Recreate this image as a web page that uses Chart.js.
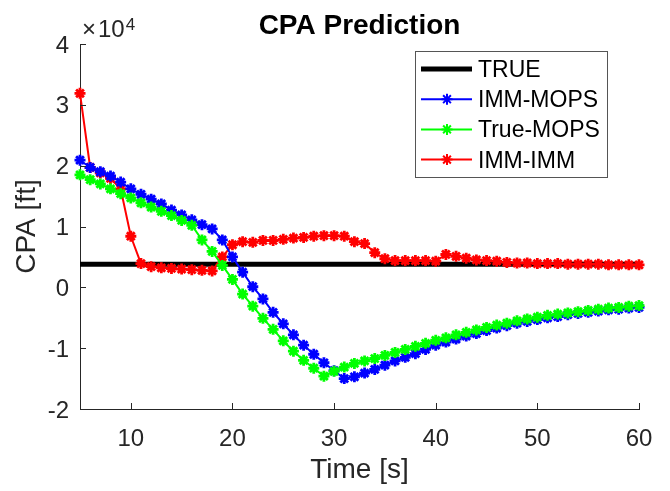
<!DOCTYPE html>
<html>
<head>
<meta charset="utf-8">
<script src="https://cdn.jsdelivr.net/npm/chart.js@4.4.1/dist/chart.umd.min.js"></script>
<style>
  html, body { margin: 0; padding: 0; background: #fff; }
  #wrap { width: 670px; height: 491px; }
</style>
</head>
<body>
<div id="wrap"><canvas id="cpaChart" width="670" height="491"></canvas></div>
<script>
// CPA estimates over time, in units of 1e4 ft (axis shows the x10^4 multiplier)
const time = [5, 6, 7, 8, 9, 10, 11, 12, 13, 14, 15, 16, 17, 18, 19, 20,
  21, 22, 23, 24, 25, 26, 27, 28, 29, 30, 31, 32, 33, 34, 35, 36, 37, 38, 39, 40,
  41, 42, 43, 44, 45, 46, 47, 48, 49, 50, 51, 52, 53, 54, 55, 56, 57, 58, 59, 60];

const trueCpa = 0.38;

const immMops = [2.09, 1.97, 1.90, 1.83, 1.73, 1.62, 1.53, 1.45, 1.37, 1.27, 1.19, 1.11, 1.03, 0.96, 0.78, 0.50,
  0.25, 0.01, -0.19, -0.41, -0.60, -0.78, -0.95, -1.10, -1.24, -1.37, -1.50, -1.47, -1.41, -1.35, -1.28, -1.21,
  -1.15, -1.09, -1.02, -0.95, -0.90, -0.85, -0.80, -0.76, -0.71, -0.67, -0.63, -0.59, -0.56, -0.53, -0.50, -0.48,
  -0.45, -0.43, -0.41, -0.39, -0.37, -0.36, -0.34, -0.33];

const trueMops = [1.85, 1.77, 1.70, 1.62, 1.54, 1.47, 1.39, 1.32, 1.25, 1.18, 1.10, 1.02, 0.78, 0.59, 0.36, 0.13,
  -0.11, -0.31, -0.51, -0.69, -0.88, -1.05, -1.20, -1.33, -1.46, -1.38, -1.31, -1.25, -1.21, -1.17, -1.12, -1.07,
  -1.02, -0.97, -0.92, -0.87, -0.83, -0.78, -0.74, -0.70, -0.66, -0.62, -0.59, -0.55, -0.52, -0.49, -0.46, -0.44,
  -0.42, -0.40, -0.38, -0.36, -0.34, -0.33, -0.31, -0.30];

const immImm = [3.19, 1.97, 1.88, 1.79, 1.62, 0.84, 0.39, 0.34, 0.32, 0.31, 0.30, 0.29, 0.28, 0.27, 0.50, 0.70,
  0.75, 0.74, 0.77, 0.77, 0.79, 0.81, 0.82, 0.84, 0.85, 0.85, 0.84, 0.75, 0.72, 0.57, 0.47, 0.44,
  0.44, 0.44, 0.44, 0.43, 0.54, 0.51, 0.48, 0.45, 0.44, 0.43, 0.41, 0.40, 0.40, 0.39, 0.39, 0.39,
  0.38, 0.38, 0.38, 0.38, 0.37, 0.37, 0.37, 0.37];

const seriesNames = ['TRUE', 'IMM-MOPS', 'True-MOPS', 'IMM-IMM'];
const xTicks = [10, 20, 30, 40, 50, 60];
const yTicks = [-2, -1, 0, 1, 2, 3, 4];

const FONT = "'Liberation Sans', Arial, Helvetica, sans-serif";
const AXIS = '#262626';

function toPoints(values) {
  return values.map((v, i) => ({ x: time[i], y: v }));
}

function markerSeries(label, color, values, order) {
  return {
    label: label,
    data: toPoints(values),
    borderColor: color,
    backgroundColor: color,
    borderWidth: 2,
    pointStyle: 'star',
    pointRadius: 5.5,
    pointBorderWidth: 2.8,
    pointBorderColor: color,
    order: order,
    clip: false
  };
}

// axis decorations, titles and the boxed legend
const matlabAxes = {
  id: 'matlabAxes',
  afterDraw(chart) {
    const ctx = chart.ctx;
    const { left, right, top, bottom } = chart.chartArea;
    const xs = chart.scales.x, ys = chart.scales.y;
    ctx.save();

    // inward tick marks
    ctx.strokeStyle = AXIS;
    ctx.lineWidth = 1;
    ctx.beginPath();
    xTicks.forEach(v => {
      const px = Math.round(xs.getPixelForValue(v)) + 0.5;
      ctx.moveTo(px, bottom);
      ctx.lineTo(px, bottom - 6);
    });
    yTicks.forEach(v => {
      const py = Math.round(ys.getPixelForValue(v)) + 0.5;
      ctx.moveTo(left, py);
      ctx.lineTo(left + 6, py);
    });
    ctx.stroke();

    // title
    ctx.fillStyle = '#000';
    ctx.font = 'bold 28px ' + FONT;
    ctx.textAlign = 'center';
    ctx.textBaseline = 'alphabetic';
    ctx.fillText('CPA Prediction', (left + right) / 2, 34);

    // axis titles
    ctx.fillStyle = AXIS;
    ctx.font = '28px ' + FONT;
    ctx.fillText('Time [s]', (left + right) / 2, 478);
    ctx.save();
    ctx.translate(35, (top + bottom) / 2);
    ctx.rotate(-Math.PI / 2);
    ctx.fillText('CPA [ft]', 0, 0);
    ctx.restore();

    // exponent multiplier
    ctx.textAlign = 'left';
    ctx.font = '24px ' + FONT;
    ctx.fillText('\u00d7', left + 2, 37);
    const wx = ctx.measureText('\u00d7').width;
    ctx.fillText('10', left + 4 + wx, 37);
    const w10 = ctx.measureText('10').width;
    ctx.font = '17px ' + FONT;
    ctx.fillText('4', left + 5 + wx + w10, 30);

    // legend box
    const lx = 415, ly = 51, lw = 192, lh = 126;
    ctx.fillStyle = '#fff';
    ctx.fillRect(lx, ly, lw, lh);
    ctx.strokeStyle = '#555';
    ctx.lineWidth = 1;
    ctx.strokeRect(lx + 0.5, ly + 0.5, lw, lh);

    ctx.font = '23px ' + FONT;
    ctx.textBaseline = 'alphabetic';
    chart.data.datasets.forEach((ds, i) => {
      const cy = 69 + i * 30.2;
      ctx.strokeStyle = ds.borderColor;
      ctx.lineWidth = ds.borderWidth;
      ctx.beginPath();
      ctx.moveTo(421, cy);
      ctx.lineTo(472, cy);
      ctx.stroke();
      if (ds.pointRadius > 0) {
        Chart.helpers.drawPoint(ctx, {
          pointStyle: ds.pointStyle, radius: ds.pointRadius,
          borderWidth: ds.pointBorderWidth, rotation: 0
        }, 447, cy);
      }
      ctx.fillStyle = '#000';
      ctx.fillText(ds.label, 478, cy + 8);
    });

    ctx.restore();
  }
};

const ctx = document.getElementById('cpaChart').getContext('2d');
new Chart(ctx, {
  type: 'line',
  data: {
    datasets: [
      {
        label: seriesNames[0],
        data: [{ x: time[0], y: trueCpa }, { x: time[time.length - 1], y: trueCpa }],
        borderColor: '#000',
        backgroundColor: '#000',
        borderWidth: 5,
        pointRadius: 0,
        order: 3,
        clip: false
      },
      markerSeries(seriesNames[1], '#0000ff', immMops, 1),
      markerSeries(seriesNames[2], '#00ff00', trueMops, 0),
      markerSeries(seriesNames[3], '#ff0000', immImm, 2)
    ]
  },
  options: {
    responsive: false,
    animation: false,
    layout: { padding: { top: 44, right: 31, left: 0, bottom: 0 } },
    elements: { line: { tension: 0, fill: false } },
    plugins: {
      legend: { display: false },
      title: { display: false },
      tooltip: { enabled: false }
    },
    scales: {
      x: {
        type: 'linear',
        min: 5,
        max: 60,
        afterBuildTicks: s => { s.ticks = xTicks.map(v => ({ value: v })); },
        afterFit: s => { s.height = 82; },
        grid: { display: false, drawTicks: false },
        border: { display: true, color: AXIS, width: 1 },
        ticks: {
          color: AXIS,
          font: { family: FONT, size: 24 },
          padding: 16,
          maxRotation: 0,
          autoSkip: false
        }
      },
      y: {
        type: 'linear',
        min: -2,
        max: 4,
        afterBuildTicks: s => { s.ticks = yTicks.map(v => ({ value: v })); },
        afterFit: s => { s.width = 80; },
        grid: { display: false, drawTicks: false },
        border: { display: true, color: AXIS, width: 1 },
        ticks: {
          color: AXIS,
          font: { family: FONT, size: 24 },
          padding: 11,
          labelOffset: 2
        }
      }
    }
  },
  plugins: [matlabAxes]
});
</script>
</body>
</html>
